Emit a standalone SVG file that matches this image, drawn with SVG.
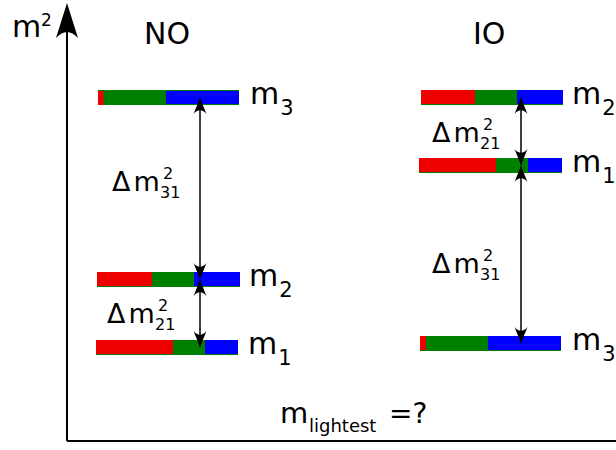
<svg xmlns="http://www.w3.org/2000/svg" width="616" height="450" viewBox="0 0 616 450">
  <style>
    text { font-family: "DejaVu Sans", "Liberation Sans", sans-serif; fill: #000; }
    .big { font-size: 30px; }
    .lbl { font-size: 30px; }
    .sub { font-size: 21px; }
    .dm { font-size: 27px; }
    .dmi { font-size: 16px; }
    .r { fill: #ee0000; }
    .g { fill: #008000; }
    .b { fill: #0000ff; }
    .gap { stroke: #000; stroke-width: 1.5; fill: none; marker-start: url(#head); marker-end: url(#head); }
    .axis { stroke: #000; stroke-width: 2; fill: none; }
  </style>
  <defs>
    <marker id="head" viewBox="-18 -9 22 18" markerWidth="22" markerHeight="18" refX="0" refY="0" orient="auto-start-reverse" markerUnits="userSpaceOnUse">
      <path d="M0,0 L-16,-6.5 C-11,-2.5 -11,2.5 -16,6.5 Z" fill="#000"/>
    </marker>
  </defs>

  <!-- axes -->
  <g id="axes">
    <path class="axis" d="M67,441 V26 M67,441 H616"/>
    <path d="M67,3 L78,38 Q67,26 56,38 Z" fill="#000"/>
    <text x="12" y="37" class="big">m</text>
    <text x="41" y="26" style="font-size:17px">2</text>
    <text x="280" y="423" style="font-size:29px">m</text>
    <text x="309" y="432" style="font-size:18px">lightest</text>
    <text x="389" y="423" style="font-size:28px">=?</text>
  </g>

  <!-- headings -->
  <text id="title-no" x="144" y="44" class="big">NO</text>
  <text id="title-io" x="473" y="44" class="big">IO</text>

  <!-- normal ordering -->
  <g id="no-m3">
    <rect class="g" x="98" y="90" width="141" height="15"/>
    <rect class="r" x="98" y="91" width="5.5" height="14"/>
    <rect class="b" x="166" y="91" width="73" height="13"/>
    <text x="250" y="104" class="lbl">m<tspan class="sub" dx="1" dy="11">3</tspan></text>
  </g>
  <g id="no-m2">
    <rect class="g" x="97" y="272" width="143" height="15"/>
    <rect class="r" x="97" y="272" width="55" height="14"/>
    <rect class="b" x="194" y="272" width="46" height="14"/>
    <text x="249" y="286" class="lbl">m<tspan class="sub" dx="1" dy="11">2</tspan></text>
  </g>
  <g id="no-m1">
    <rect class="g" x="96" y="340" width="142" height="15"/>
    <rect class="r" x="96" y="340" width="77" height="14"/>
    <rect class="b" x="205" y="340" width="33" height="14"/>
    <text x="248" y="354" class="lbl">m<tspan class="sub" dx="1" dy="11">1</tspan></text>
  </g>

  <!-- inverted ordering -->
  <g id="io-m2">
    <rect class="g" x="421" y="90" width="142" height="15"/>
    <rect class="r" x="421" y="90" width="54" height="14"/>
    <rect class="b" x="517" y="90" width="46" height="14"/>
    <text x="572" y="104" class="lbl">m<tspan class="sub" dx="1" dy="11">2</tspan></text>
  </g>
  <g id="io-m1">
    <rect class="g" x="419" y="158" width="143" height="15"/>
    <rect class="r" x="419" y="158" width="77" height="14"/>
    <rect class="b" x="528" y="158" width="34" height="14"/>
    <text x="572" y="172" class="lbl">m<tspan class="sub" dx="1" dy="11">1</tspan></text>
  </g>
  <g id="io-m3">
    <rect class="g" x="420" y="336" width="141" height="15"/>
    <rect class="r" x="420" y="336" width="6" height="14"/>
    <rect class="b" x="488" y="336" width="73" height="14"/>
    <text x="572" y="350" class="lbl">m<tspan class="sub" dx="1" dy="11">3</tspan></text>
  </g>

  <!-- splitting arrows -->
  <g id="connectors">
    <line class="gap" x1="200" y1="98" x2="200" y2="279"/>
    <line class="gap" x1="200" y1="280" x2="200" y2="347"/>
    <line class="gap" x1="521" y1="98" x2="521" y2="165"/>
    <line class="gap" x1="521" y1="166" x2="521" y2="343"/>
  </g>

  <!-- splitting labels -->
  <g id="lbl-no-31">
    <text x="112" y="191" class="dm">Δ<tspan dx="3">m</tspan></text>
    <text x="163" y="179" class="dmi">2</text>
    <text x="160" y="198" class="dmi">31</text>
  </g>
  <g id="lbl-no-21">
    <text x="107" y="323" class="dm">Δ<tspan dx="3">m</tspan></text>
    <text x="158" y="311" class="dmi">2</text>
    <text x="155" y="330" class="dmi">21</text>
  </g>
  <g id="lbl-io-21">
    <text x="432" y="142" class="dm">Δ<tspan dx="3">m</tspan></text>
    <text x="483" y="130" class="dmi">2</text>
    <text x="480" y="149" class="dmi">21</text>
  </g>
  <g id="lbl-io-31">
    <text x="432" y="273" class="dm">Δ<tspan dx="3">m</tspan></text>
    <text x="483" y="261" class="dmi">2</text>
    <text x="480" y="280" class="dmi">31</text>
  </g>
</svg>
